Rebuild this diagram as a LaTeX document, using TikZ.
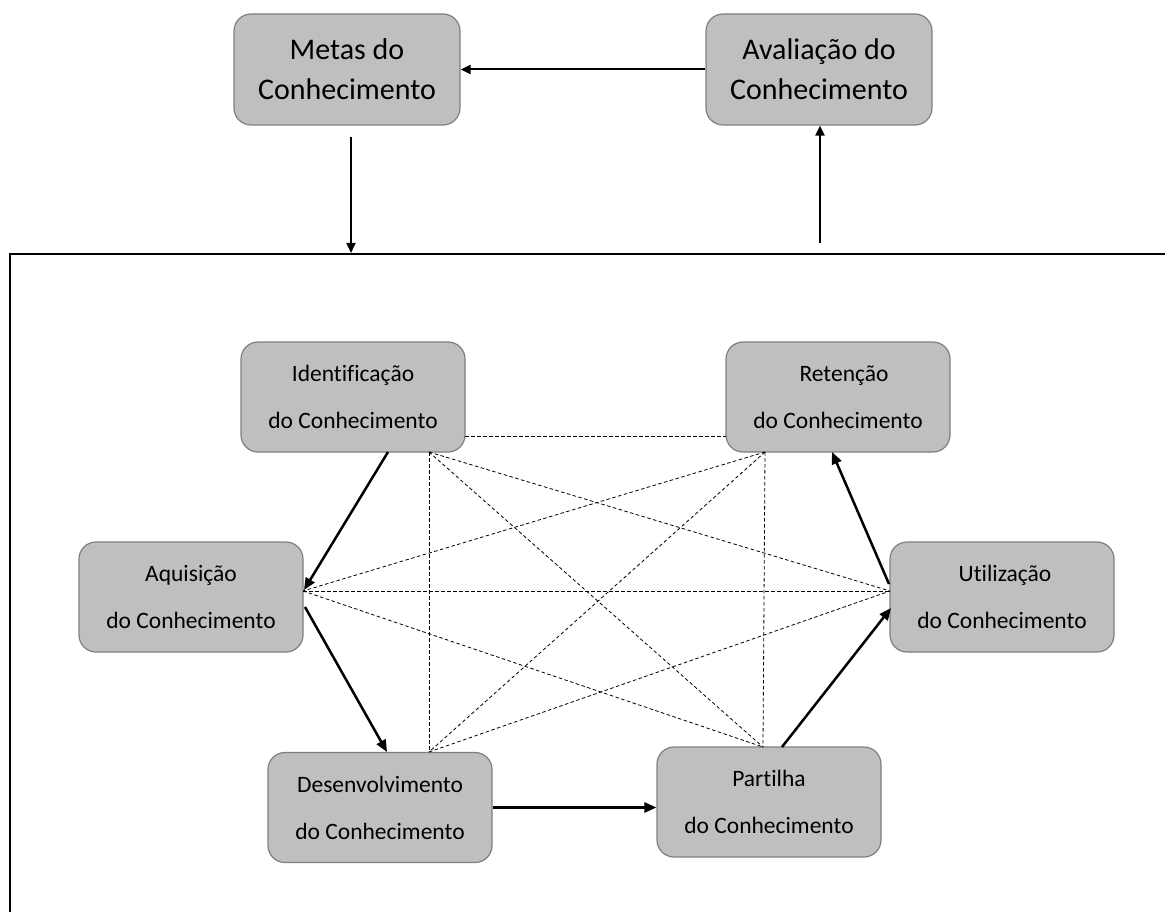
\documentclass[tikz,border=0pt]{standalone}
\usepackage{fontspec}
\setmainfont{Carlito}[Ligatures={NoCommon,NoContextual}]
\usetikzlibrary{arrows.meta}
\definecolor{boxfill}{HTML}{BFBFBF}
\definecolor{boxline}{HTML}{7F7F7F}
\tikzset{
  bigbox/.style={draw=boxline, fill=boxfill, line width=1.2pt, rounded corners=17pt,
    minimum width=226pt, minimum height=111pt, align=center, inner sep=0pt,
    font=\fontsize{30}{40}\selectfont},
  stagebox/.style={draw=boxline, fill=boxfill, line width=1.2pt, rounded corners=17pt,
    minimum width=224pt, minimum height=110pt, align=center, inner sep=0pt,
    font=\fontsize{23.5}{47}\selectfont},
  flow/.style={line width=2pt, -{Triangle[length=10pt,width=9pt]}},
  stageflow/.style={line width=2.5pt, -{Triangle[length=12pt,width=10pt]}},
  link/.style={line width=0.8pt, dash pattern=on 3.5pt off 2.5pt},
  frame/.style={line width=1.4pt}
}
\begin{document}
\begin{tikzpicture}[x=1pt, y=-1pt]
\useasboundingbox (0,0) rectangle (1165,912);

% outer frame (open to the right and bottom)
\coordinate (fl) at (10,912);
\coordinate (ftl) at (10,254);
\coordinate (fr) at (1165,254);
\draw[frame] (fl) -- (ftl) -- (fr);

% top cycle
\node[bigbox] (metas) at (347,69.5) {Metas do\\Conhecimento};
\node[bigbox] (aval) at (819,69.5) {Avaliação do\\Conhecimento};

% knowledge management stages
\node[stagebox] (ident) at (353,397) {Identificação\\do Conhecimento};
\node[stagebox] (ret) at (838,397) {\hspace{12pt}Retenção\\do Conhecimento};
\node[stagebox] (aq) at (191,597) {Aquisição\\do Conhecimento};
\node[stagebox] (util) at (1002,597) {\hspace{6pt}Utilização\\do Conhecimento};
\node[stagebox] (dev) at (380,807.5) {Desenvolvimento\\do Conhecimento};
\node[stagebox] (part) at (769,802) {Partilha\\do Conhecimento};

% dashed link anchors
\coordinate (pI) at (429,452);
\coordinate (pR) at (765,452);
\coordinate (pA) at (303,591);
\coordinate (pU) at (890,591);
\coordinate (pD) at (429,752);
\coordinate (pP) at (763,747);
\coordinate (pIr) at (465,436);
\coordinate (pRl) at (726,436);

\draw[link] (pIr) -- (pRl);
\draw[link] (pI) -- (pD);
\draw[link] (pI) -- (pU);
\draw[link] (pI) -- (pP);
\draw[link] (pR) -- (pA);
\draw[link] (pR) -- (pD);
\draw[link] (pR) -- (pP);
\draw[link] (pA) -- (pU);
\draw[link] (pA) -- (pP);
\draw[link] (pD) -- (pU);

% top arrows
\coordinate (mdown) at (351,137);
\coordinate (mhit) at (351,253);
\coordinate (aup) at (820,243);
\draw[flow] (aval.west) -- (metas.east);
\draw[flow] (mdown) -- (mhit);
\draw[flow] (aup) -- (aval.south -| aup);

% stage flow
\draw[stageflow] (388,452) -- (304,590);
\draw[stageflow] (305,607) -- (387,752);
\draw[stageflow] (dev.east) -- (part.west |- dev.east);
\draw[stageflow] (782,747) -- (891,608);
\draw[stageflow] (889,584) -- (832,452);
\end{tikzpicture}
\end{document}
